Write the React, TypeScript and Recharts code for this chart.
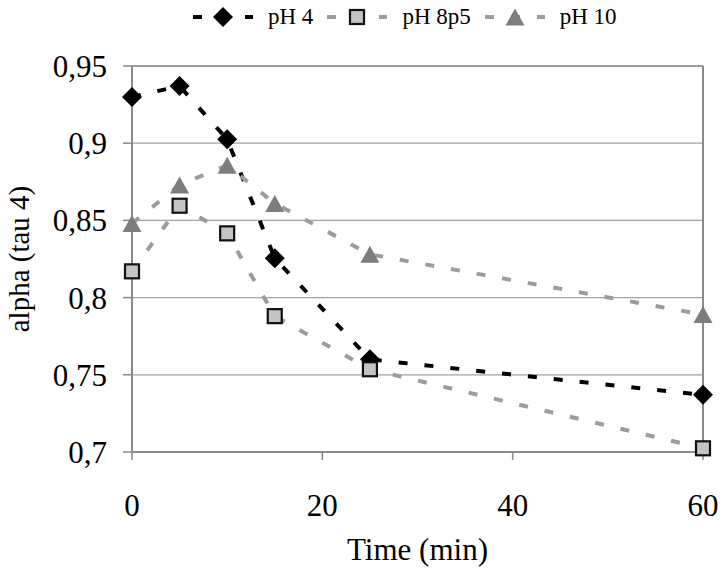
import React from "react";
import {
  CartesianGrid,
  Line,
  LineChart,
  ReferenceLine,
  XAxis,
  YAxis,
} from "recharts";

const times = [0, 5, 10, 15, 25, 60];
const ph4 = [0.93, 0.937, 0.9025, 0.8255, 0.76, 0.737];
const ph8p5 = [0.817, 0.8595, 0.8416, 0.788, 0.7536, 0.7024];
const ph10 = [0.848, 0.873, 0.8857, 0.861, 0.828, 0.789];

const xTicks = [0, 20, 40, 60];
const yTicks = [0.7, 0.75, 0.8, 0.85, 0.9, 0.95];
const yTickLabels = ["0,7", "0,75", "0,8", "0,85", "0,9", "0,95"];

const seriesNames = ["pH 4", "pH 8p5", "pH 10"];

const data = times.map((t, i) => ({
  t,
  ph4: ph4[i],
  ph8p5: ph8p5[i],
  ph10: ph10[i],
}));

const FONT = "'Liberation Serif', 'Times New Roman', serif";
const GRID = "#a3a3a3";
const AXIS = "#8a8a8a";
const DASH_GRAY = "#9c9c9c";

type Shape = "diamond" | "square" | "triangle";

function Marker({ shape, cx, cy }: { shape: Shape; cx: number; cy: number }) {
  if (shape === "diamond") {
    const r = 10;
    return (
      <polygon
        points={`${cx},${cy - r} ${cx + r},${cy} ${cx},${cy + r} ${cx - r},${cy}`}
        fill="#000"
      />
    );
  }
  if (shape === "square") {
    const s = 14;
    return (
      <rect
        x={cx - s / 2}
        y={cy - s / 2}
        width={s}
        height={s}
        fill="#c4c4c4"
        stroke="#111"
        strokeWidth={2.2}
      />
    );
  }
  const w = 19;
  const h = 17;
  return (
    <polygon
      points={`${cx},${cy - h / 2} ${cx + w / 2},${cy + h / 2} ${cx - w / 2},${cy + h / 2}`}
      fill="#7d7d7d"
    />
  );
}

const dotFor = (shape: Shape) => (props: any) => {
  const { cx, cy, index } = props;
  if (cx == null || cy == null) return <g key={index} />;
  return <Marker key={index} shape={shape} cx={cx} cy={cy} />;
};

const series = [
  { key: "ph4", name: seriesNames[0], color: "#000", shape: "diamond" as Shape },
  { key: "ph8p5", name: seriesNames[1], color: DASH_GRAY, shape: "square" as Shape },
  { key: "ph10", name: seriesNames[2], color: DASH_GRAY, shape: "triangle" as Shape },
];

function LegendBar() {
  return (
    <div
      style={{
        position: "absolute",
        left: 191,
        top: 0,
        height: 34,
        display: "flex",
        alignItems: "center",
        fontFamily: FONT,
        fontSize: 23,
        color: "#000",
      }}
    >
      {series.map((s) => (
        <div key={s.key} style={{ display: "flex", alignItems: "center", marginRight: 12 }}>
          <svg width={62} height={24} style={{ marginRight: 15 }}>
            <line
              x1={2}
              y1={12}
              x2={62}
              y2={12}
              stroke={s.color}
              strokeWidth={4}
              strokeDasharray="9 17"
            />
            <Marker shape={s.shape} cx={32} cy={12} />
          </svg>
          <span>{s.name}</span>
        </div>
      ))}
    </div>
  );
}

export default function App() {
  return (
    <div
      style={{
        position: "absolute",
        left: 0,
        top: 0,
        width: 720,
        height: 578,
        background: "#fff",
      }}
    >
      <LineChart
        width={720}
        height={578}
        data={data}
        margin={{ top: 66, right: 17, left: 0, bottom: 0 }}
      >
        <CartesianGrid stroke={GRID} strokeWidth={1.2} vertical={false} />
        <ReferenceLine x={60} stroke={AXIS} strokeWidth={2} />
        <ReferenceLine y={0.95} stroke={AXIS} strokeWidth={1.5} />
        <XAxis
          dataKey="t"
          type="number"
          domain={[0, 60]}
          ticks={xTicks}
          height={126}
          tickSize={8}
          tickMargin={34}
          axisLine={{ stroke: AXIS, strokeWidth: 2 }}
          tickLine={{ stroke: AXIS, strokeWidth: 1.5 }}
          tick={{ fill: "#000", fontSize: 31, fontFamily: FONT }}
          label={{
            content: (p: any) => {
              const vb = p.viewBox;
              return (
                <text
                  x={vb.x + vb.width / 2}
                  y={560}
                  textAnchor="middle"
                  fill="#000"
                  fontSize={31}
                  fontFamily={FONT}
                >
                  Time (min)
                </text>
              );
            },
          }}
        />
        <YAxis
          type="number"
          domain={[0.7, 0.95]}
          ticks={yTicks}
          width={132}
          tickSize={9}
          tickMargin={16}
          interval={0}
          axisLine={{ stroke: AXIS, strokeWidth: 2 }}
          tickLine={{ stroke: AXIS, strokeWidth: 1.5 }}
          tick={{ fill: "#000", fontSize: 31, fontFamily: FONT }}
          tickFormatter={(v: number) => yTickLabels[yTicks.indexOf(v)] ?? String(v)}
          label={{
            content: (p: any) => {
              const vb = p.viewBox;
              const cx = 19;
              const cy = vb.y + vb.height / 2;
              return (
                <text
                  x={cx}
                  y={cy}
                  transform={`rotate(-90 ${cx} ${cy})`}
                  textAnchor="middle"
                  dominantBaseline="central"
                  fill="#000"
                  fontSize={29}
                  fontFamily={FONT}
                >
                  alpha (tau 4)
                </text>
              );
            },
          }}
        />
        {series.map((s) => (
          <Line
            key={s.key}
            dataKey={s.key}
            name={s.name}
            type="linear"
            stroke={s.color}
            strokeWidth={4}
            strokeDasharray="9 17"
            dot={dotFor(s.shape)}
            activeDot={false}
            isAnimationActive={false}
          />
        ))}
      </LineChart>
      <LegendBar />
    </div>
  );
}
